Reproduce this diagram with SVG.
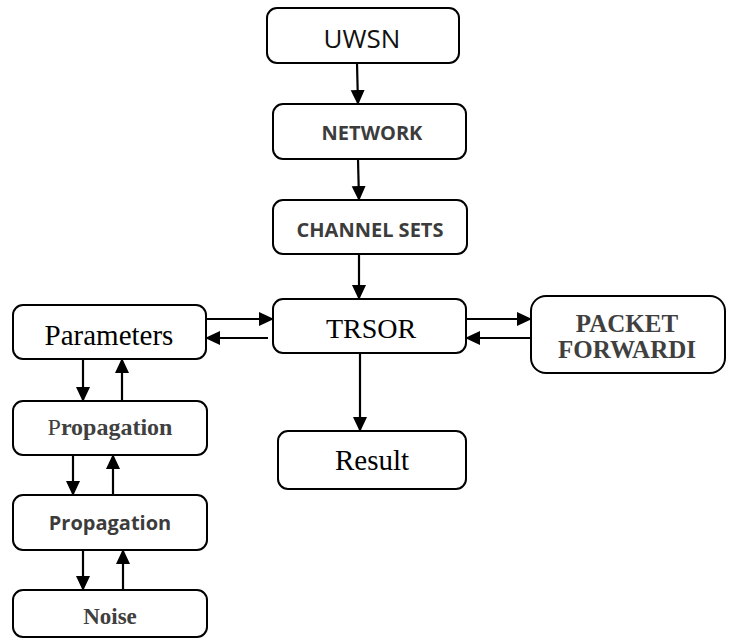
<svg xmlns="http://www.w3.org/2000/svg" width="730" height="641" viewBox="0 0 730 641">
<defs>
<marker id="ah" markerUnits="userSpaceOnUse" markerWidth="15" markerHeight="15" viewBox="0 0 15 14" refX="14" refY="7" orient="auto">
<path d="M0,0 L15,7 L0,14 Z" fill="#000"/>
</marker>
</defs>
<style>
.box{fill:#fff;stroke:#000;stroke-width:2}
.con line{stroke:#000;stroke-width:2.2;marker-end:url(#ah)}
.sans{font-family:"Open Sans","Liberation Sans",sans-serif;text-anchor:middle}
.sb{font-family:"Open Sans","Liberation Sans",sans-serif;font-weight:bold;fill:#3c3c3c;text-anchor:middle}
.serif{font-family:"Liberation Serif","Times New Roman",serif;text-anchor:middle;fill:#000}
.serb{font-family:"Liberation Serif","Times New Roman",serif;font-weight:bold;fill:#404040;text-anchor:middle}
</style>
<rect width="730" height="641" fill="#fff"/>
<g id="connectors" class="con">
<line x1="357" y1="63" x2="358" y2="104"/>
<line x1="358" y1="159" x2="359" y2="200"/>
<line x1="359" y1="254" x2="359" y2="299"/>
<line x1="206" y1="319" x2="273" y2="319"/>
<line x1="268" y1="338" x2="206" y2="338"/>
<line x1="466" y1="319" x2="531" y2="319"/>
<line x1="531" y1="338" x2="466" y2="338"/>
<line x1="360" y1="353" x2="360" y2="431"/>
<line x1="83" y1="359" x2="83" y2="401"/>
<line x1="122" y1="401" x2="122" y2="359"/>
<line x1="73" y1="455" x2="73" y2="495"/>
<line x1="113" y1="495" x2="113" y2="455"/>
<line x1="83" y1="550" x2="83" y2="590"/>
<line x1="123" y1="590" x2="123" y2="550"/>
</g>
<g id="uwsn"><rect class="box" x="267" y="8" width="192" height="55" rx="10"/><text class="sans" x="362" y="48" font-size="26" fill="#111">UWSN</text></g>
<g id="network"><rect class="box" x="273" y="104" width="193" height="55" rx="10"/><text class="sb" x="372" y="140" font-size="20">NETWORK</text></g>
<g id="channel"><rect class="box" x="273" y="200" width="194" height="54" rx="10"/><text class="sb" x="370" y="237" font-size="20">CHANNEL SETS</text></g>
<g id="trsor"><rect class="box" x="273" y="299" width="193" height="54" rx="10"/><text class="serif" x="371" y="338" font-size="28">TRSOR</text></g>
<g id="parameters"><rect class="box" x="13" y="305" width="193" height="54" rx="10"/><text class="serif" x="109" y="345" font-size="29">Parameters</text></g>
<g id="packet"><rect class="box" x="531" y="296" width="194" height="77" rx="15"/><text class="serb" x="627" y="332" font-size="25">PACKET</text><text class="serb" x="627" y="358" font-size="25">FORWARDI</text></g>
<g id="result"><rect class="box" x="278" y="431" width="188" height="58" rx="10"/><text class="serif" x="372" y="470" font-size="29">Result</text></g>
<g id="propagation1"><rect class="box" x="13" y="401" width="194" height="54" rx="10"/><text class="serb" x="110" y="435" font-size="24"><tspan font-weight="normal">P</tspan>ropagation</text></g>
<g id="propagation2"><rect class="box" x="13" y="495" width="194" height="55" rx="10"/><text class="sb" x="110" y="530" font-size="20">Propagation</text></g>
<g id="noise"><rect class="box" x="13" y="590" width="194" height="47" rx="10"/><text class="serb" x="110" y="624" font-size="23">Noise</text></g>
</svg>
